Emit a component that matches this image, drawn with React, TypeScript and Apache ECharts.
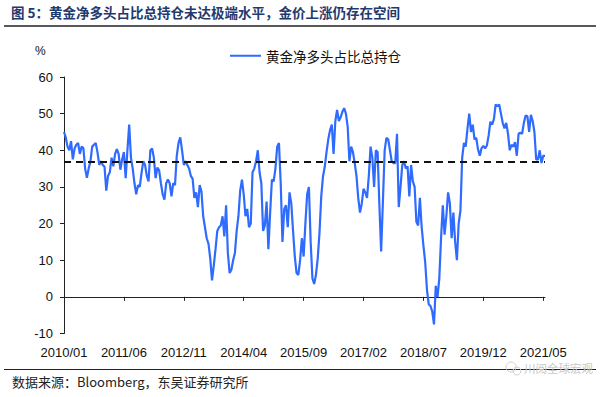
import React, { useEffect, useRef } from "react";
import * as echarts from "echarts";

const titleText = "图 5：黄金净多头占比总持仓未达极端水平，金价上涨仍存在空间";
const sourceText = "数据来源：Bloomberg，东吴证券研究所";
const seriesName = "黄金净多头占比总持仓";
const thresholdValue = 37;
const yTicks = { min: -10, max: 60, interval: 10 };

// Half-monthly readings, 2010/01 to 2021/05
const netLongShare: number[] = [
  45, 43.5, 41, 40, 42.5, 37.5, 40.5, 41.5, 42, 39,
  41, 40.6, 35, 32.5, 35, 37, 41, 41.5, 42, 39.5,
  36, 37, 36, 35.5, 29, 33, 34, 38, 35.6, 39,
  40.3, 39, 34.7, 37.5, 39.5, 32.4, 40, 47, 38, 35,
  31, 28, 30.5, 30, 33.8, 37, 36, 33, 31.5, 40,
  40.5, 38, 32.4, 35.3, 34.5, 31, 28, 26.5, 31, 32,
  31, 27.4, 31, 30.5, 38.5, 42, 43.5, 40, 36, 37,
  36, 35, 33, 32.2, 27, 28.5, 24.5, 30.5, 28.8, 22,
  19, 16, 14.5, 10.5, 4.5, 8.5, 13, 18, 19, 19.5,
  22, 16.5, 25, 12, 6.5, 7.4, 10, 12, 18, 22,
  29, 32, 28, 22, 24, 19, 20, 34, 35, 37,
  40, 34, 31, 18, 19.5, 26, 13, 23, 32, 31.5,
  35, 41, 42, 31, 15, 24, 25, 19, 28.5, 25.5,
  18, 11, 6.5, 6, 10, 16, 11, 20, 28, 30,
  15, 5, 3.5, 6, 10.5, 17.4, 27.4, 32.9, 35.5, 39.5,
  43, 45.5, 47, 39, 48, 51, 48, 49, 50.5, 51.5,
  50, 46.5, 37, 41, 39.5, 36.5, 33, 27, 23, 25.5,
  29.5, 28.5, 27, 33, 41, 38, 30, 40, 39.5, 25,
  12.4, 26, 40, 43.4, 43, 40, 37, 36.5, 36.5, 44.5,
  24.5, 30, 36, 37, 35, 35.6, 27.4, 36, 31.5, 30,
  20.5, 19.5, 27, 19, 14, 9.5, 2, -2, -2.5, -4,
  -7.5, 3, 0, 5, 16, 25, 17, 22, 28.5, 25.5,
  16, 23, 15, 10, 20, 23.5, 38, 42, 41, 46,
  50, 45, 47, 43, 43.4, 40.2, 38.5, 40.6, 41.2, 40.5,
  41.3, 44, 47.8, 47, 48.5, 52.5, 52, 52.5, 50, 47.5,
  46, 47.5, 44.5, 40, 41.5, 41, 42.2, 38.5, 44.5, 44.8,
  44.5, 47.5, 49.5, 49.3, 45, 49.7, 48, 45, 37.5, 37.5,
  40, 36.5, 38.5, 38.5,
];

// Half-monthly category dates
const dates: string[] = netLongShare.map((_, i) => {
  const m = Math.floor(i / 2);
  const y = 2010 + Math.floor(m / 12);
  const mo = (m % 12) + 1;
  return `${y}/${mo < 10 ? "0" + mo : mo}/${i % 2 === 0 ? "01" : "15"}`;
});
const labelEvery = 34; // every 17 months

export default function App() {
  const ref = useRef<HTMLDivElement>(null);
  useEffect(() => {
    if (!ref.current) return;
    const chart = echarts.init(ref.current, null, { renderer: "svg" });
    const cjk = '"Noto Sans CJK SC", sans-serif';
    const latin = '"Liberation Sans", Arial, sans-serif';
    chart.setOption({
      animation: false,
      backgroundColor: "#ffffff",
      grid: { left: 64, right: 55, top: 77, bottom: 63.5, containLabel: false },
      legend: {
        show: true,
        left: 225,
        top: 44,
        icon: "rect",
        itemWidth: 31,
        itemHeight: 2,
        textStyle: { fontFamily: cjk, fontSize: 13.5, color: "#111" },
        data: [seriesName],
      },
      xAxis: [
        {
          type: "category",
          data: dates,
          boundaryGap: false,
          axisLine: { show: true, onZero: true, lineStyle: { color: "#222", width: 1 } },
          axisTick: { show: true, interval: labelEvery - 1, length: 4, lineStyle: { color: "#222" } },
          axisLabel: { show: false },
          splitLine: { show: false },
        },
        {
          type: "category",
          data: dates,
          boundaryGap: false,
          position: "bottom",
          axisLine: { show: false, onZero: false },
          axisTick: { show: false },
          axisLabel: {
            show: true,
            interval: labelEvery - 1,
            margin: 12,
            fontFamily: latin,
            fontSize: 13,
            color: "#111",
            formatter: (v: string) => v.slice(0, 7),
          },
          splitLine: { show: false },
        },
      ],
      yAxis: {
        type: "value",
        min: yTicks.min,
        max: yTicks.max,
        interval: yTicks.interval,
        axisLine: { show: true, lineStyle: { color: "#222", width: 1 } },
        axisTick: { show: true, length: 4, lineStyle: { color: "#222" } },
        axisLabel: { fontFamily: latin, fontSize: 13, color: "#111", margin: 11 },
        splitLine: { show: false },
      },
      series: [
        {
          name: seriesName,
          type: "line",
          data: netLongShare,
          xAxisIndex: 0,
          showSymbol: false,
          symbol: "none",
          lineStyle: { color: "#2F6BFF", width: 2.2 },
          itemStyle: { color: "#2F6BFF" },
          markLine: {
            silent: true,
            symbol: "none",
            label: { show: false },
            lineStyle: { color: "#111", type: [7, 5], width: 2 },
            data: [{ yAxis: thresholdValue }],
          },
        },
      ],
      graphic: [
        {
          type: "text",
          left: 11,
          top: 5,
          style: {
            text: titleText,
            fontFamily: cjk,
            fontSize: 13.5,
            fontWeight: "bold",
            fill: "#1F3A6E",
          },
        },
        {
          type: "line",
          shape: { x1: 4, y1: 26, x2: 596, y2: 26 },
          style: { stroke: "#222", lineWidth: 1.5 },
        },
        {
          type: "text",
          left: 35,
          top: 45,
          style: { text: "%", fontFamily: latin, fontSize: 12, fill: "#111" },
        },
        {
          type: "line",
          shape: { x1: 4, y1: 369.5, x2: 596, y2: 369.5 },
          style: { stroke: "#222", lineWidth: 1 },
        },
        {
          type: "text",
          left: 12,
          top: 375,
          style: { text: sourceText, fontFamily: cjk, fontSize: 13, fill: "#222" },
        },
        {
          type: "text",
          left: 524,
          top: 362,
          style: { text: "川阅全球宏观", fontFamily: cjk, fontSize: 11.5, fill: "#c8c8c8" },
        },
        {
          type: "circle",
          shape: { cx: 511, cy: 367, r: 5 },
          style: { fill: "none", stroke: "#cfcfcf", lineWidth: 1 },
        },
        {
          type: "circle",
          shape: { cx: 517, cy: 371, r: 4 },
          style: { fill: "none", stroke: "#cfcfcf", lineWidth: 1 },
        },
      ],
    });
    return () => chart.dispose();
  }, []);
  return (
    <div
      ref={ref}
      style={{ position: "fixed", left: 0, top: 0, width: 600, height: 397, background: "#fff" }}
    />
  );
}
